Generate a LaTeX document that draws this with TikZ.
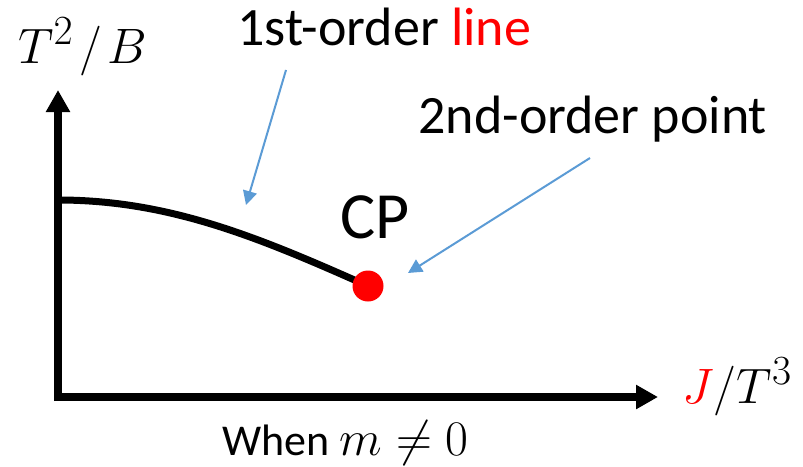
\documentclass[tikz,border=0pt]{standalone}
\usepackage{fontspec}
\setmainfont{Carlito}
\usetikzlibrary{arrows.meta}
\definecolor{arrowblue}{RGB}{91,155,213}
\DeclareMathSizes{29}{29}{22}{17}

\begin{document}
\begin{tikzpicture}[x=0.5pt,y=-0.5pt,
  axis/.style={line width=4pt,shorten <=-2pt,-{Triangle[width=11.5pt,length=11pt]}},
  pointer/.style={draw=arrowblue,line width=1pt,-{Triangle[width=7pt,length=7pt]}},
  lbl/.style={inner sep=0pt,anchor=base west,font=\fontsize{27}{32}\selectfont},
  mathlbl/.style={lbl,font=\fontsize{29}{34}\selectfont}]
\useasboundingbox (0,0) rectangle (803,466);
\coordinate (o) at (58,397);
\coordinate (ytop) at (58,90);
\coordinate (xend) at (658,397);
\draw[axis] (o)--(ytop);
\draw[axis] (o)--(xend);
% transition line ending in the critical point
\coordinate (start) at (58,200);
\coordinate (cp) at (368,286);
\draw[line width=3.5pt] (start) .. controls (170,200) and (260,238) .. (cp);
\node[circle,fill=red,inner sep=0pt,minimum size=15.5pt] (cpdot) at (cp) {};
\node[mathlbl] (ylbl) at (18,63) {$T^2\mkern2mu/\mkern2mu B$};
\node[mathlbl] (xlbl) at (682,403) {$\textcolor{red}{J}/T^3$};
\node[lbl] (first) at (237,45) {1st-order \textcolor{red}{line}};
\node[lbl] (second) at (418,133) {2nd-order point};
\node[lbl,font=\fontsize{33}{40}\selectfont] (cplbl) at (340,238) {CP};
\node[lbl,font=\fontsize{22}{26}\selectfont] (cond) at (222,455)
  {When {\fontsize{30}{36}\selectfont$m\neq0$}};
\coordinate (p1) at (286,70);
\coordinate (p1tip) at (246,205);
\coordinate (p2) at (590,158);
\coordinate (p2tip) at (408,273);
\draw[pointer] (p1)--(p1tip);
\draw[pointer] (p2)--(p2tip);
\end{tikzpicture}
\end{document}
